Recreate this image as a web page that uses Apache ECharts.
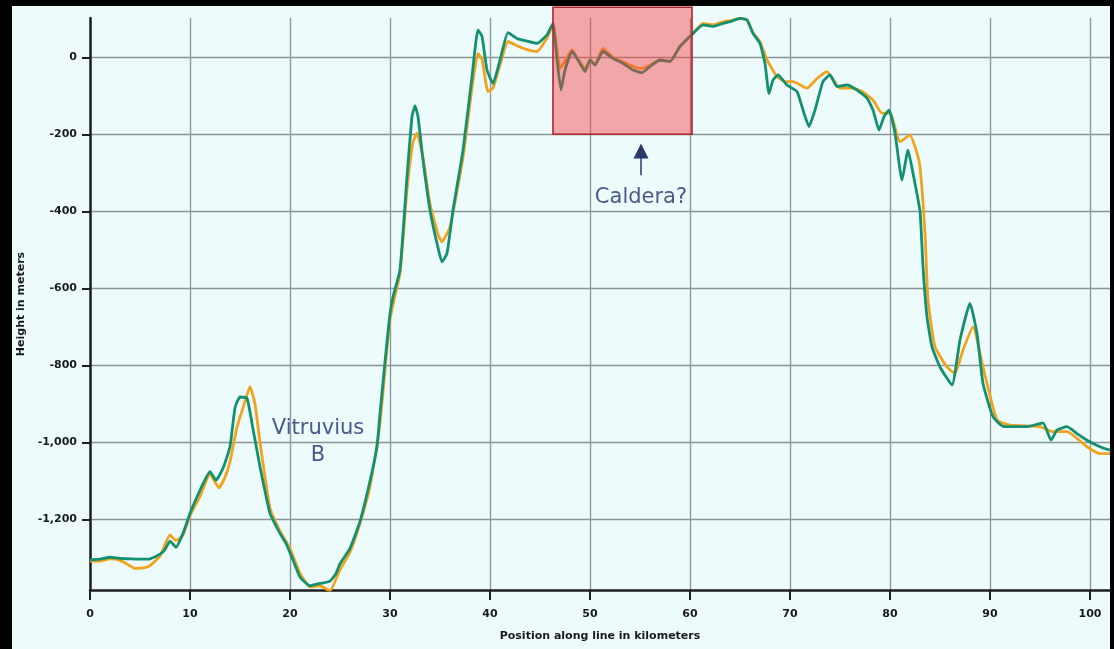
<!DOCTYPE html>
<html>
<head>
<meta charset="utf-8">
<title>Height profile</title>
<script src="https://cdn.jsdelivr.net/npm/echarts@6/dist/echarts.min.js"></script>
<style>
  html, body { margin: 0; padding: 0; background: #000; width: 1114px; height: 649px; overflow: hidden; }
  #panel { position: absolute; left: 12px; top: 6px; width: 1098px; height: 643px; background: #edfbfd; }
  #chart { position: absolute; left: 0; top: 0; width: 1114px; height: 649px; }
</style>
</head>
<body>
<div id="panel"></div>
<div id="chart"></div>
<script>
// Height profile along the survey line (km, m)
const greenKm = [0, 1, 2, 3, 4, 5, 6, 7, 7.5, 8, 8.6, 9.3, 10, 11, 12, 12.6, 13.3, 14, 14.5, 15, 15.7, 16.3, 17, 18, 19, 19.6, 20.3, 21, 22, 23, 24, 24.6, 25, 26, 27, 28, 28.7, 29, 29.5, 30, 30.3, 31, 31.7, 32.2, 32.5, 32.8, 33.3, 34, 34.7, 35.2, 35.7, 36.3, 37.3, 38.2, 38.8, 39.2, 39.7, 40.3, 41, 41.8, 42.7, 43.7, 44.7, 45.7, 46.3, 46.7, 47.1, 47.5, 48.2, 48.8, 49.5, 50, 50.5, 51.3, 52.3, 53.3, 54.3, 55.2, 56, 57, 58, 59, 60.3, 61.3, 62.3, 63.3, 64.2, 65, 65.7, 66.3, 67, 67.5, 67.9, 68.3, 68.8, 69.7, 70.7, 71.3, 71.9, 72.5, 73.3, 74, 74.7, 75.7, 76.7, 77.7, 78.3, 78.9, 79.4, 79.9, 80.5, 81.2, 81.8, 82.3, 83, 83.3, 83.7, 84.2, 85, 86.2, 87, 88, 88.7, 89.3, 90.3, 91.3, 93.7, 95.3, 96.1, 96.7, 97.7, 98.7, 99.7, 101, 102];
const greenHeight = [-1305, -1303, -1298, -1301, -1302, -1303, -1302, -1290, -1278, -1256, -1272, -1236, -1184, -1124, -1076, -1098, -1067, -1011, -910, -882, -885, -965, -1063, -1184, -1236, -1262, -1305, -1349, -1372, -1366, -1360, -1340, -1315, -1275, -1205, -1100, -1011, -925, -790, -665, -622, -552, -310, -154, -126, -154, -267, -397, -483, -531, -509, -397, -241, -50, 71, 54, -33, -68, -7, 64, 49, 42, 36, 58, 88, -7, -85, -33, 15, -7, -37, -7, -20, 15, -3, -16, -33, -40, -24, -7, -11, 28, 62, 84, 80, 88, 94, 101, 97, 62, 36, -16, -94, -59, -46, -72, -89, -137, -180, -137, -63, -46, -76, -72, -85, -106, -137, -189, -154, -137, -197, -319, -241, -301, -400, -544, -674, -752, -804, -851, -734, -639, -717, -847, -933, -958, -959, -949, -994, -968, -959, -977, -994, -1011, -1020];

const orangeKm = [0, 1, 2, 3, 4, 4.5, 5.5, 6, 7, 8, 8.6, 9.3, 10, 11, 12, 12.9, 13.5, 14, 14.7, 15.3, 16, 16.5, 17, 18, 19, 20, 21, 22, 23, 24, 25, 26, 27, 28, 29, 30, 31, 31.7, 32.3, 32.7, 33.3, 34, 34.8, 35.2, 36, 37.3, 38.2, 38.8, 39.2, 39.8, 40.3, 41, 41.8, 42.7, 43.7, 44.7, 45.7, 46.3, 47, 47.5, 48.2, 48.8, 49.5, 50, 50.5, 51.3, 52.3, 53.3, 54.3, 55.2, 56, 57, 58, 59, 60.3, 61.3, 62.3, 63.3, 64.2, 65, 65.7, 66.3, 67, 67.7, 68.7, 69.5, 70.3, 71.7, 72.7, 73.7, 75, 76.3, 77.3, 78.3, 79.2, 80, 81, 82, 82.7, 83, 83.5, 83.8, 84.5, 85.7, 86.5, 87.3, 88.3, 89.3, 90.7, 92, 95, 96.3, 97.7, 99.7, 101, 102];
const orangeHeight = [-1308, -1308, -1302, -1306, -1320, -1327, -1325, -1320, -1295, -1240, -1255, -1240, -1190, -1140, -1082, -1118, -1090, -1050, -960, -910, -855, -900, -1000, -1170, -1230, -1275, -1340, -1375, -1372, -1385, -1330, -1285, -1210, -1115, -950, -680, -560, -345, -220, -197, -260, -380, -460, -479, -440, -260, -80, 10, -5, -89, -80, -20, 41, 30, 20, 15, 50, 84, -29, -10, 19, -5, -29, -10, -18, 23, 0, -12, -24, -29, -20, -7, -10, 28, 62, 88, 84, 92, 96, 101, 97, 64, 40, -7, -50, -63, -63, -80, -55, -37, -80, -80, -90, -111, -145, -145, -219, -202, -249, -284, -457, -630, -752, -804, -821, -760, -700, -804, -942, -955, -959, -972, -972, -1011, -1029, -1029];

// Axis ranges and tick labels
const xRange = [0, 102];
const yRange = [-1383, 102];
const xTickValues = [0, 10, 20, 30, 40, 50, 60, 70, 80, 90, 100];
const yTickValues = [-1200, -1000, -800, -600, -400, -200, 0];

// Annotations: highlighted box, arrow and labels
const calderaBox = [[46.3, 130], [60.2, -200]];
const arrowFrom = [55.1, -306];
const arrowTo = [55.1, -243];
const calderaLabel = [55.1, -365];
const vitruviusLabel = [22.8, -1000];

const pairs = (xs, ys) => xs.map((x, i) => [x, ys[i]]);

const axisColor = '#1e1e1e';
const gridColor = '#8a9495';
const labelFont = { fontFamily: 'DejaVu Sans, sans-serif', fontSize: 11, fontWeight: 'bold', color: '#1a1a1a' };
const noteColor = '#22306a';

const chart = echarts.init(document.getElementById('chart'), null, { renderer: 'canvas' });

chart.setOption({
  backgroundColor: 'transparent',
  animation: false,
  grid: [
    { left: 90, right: 4, top: 18, bottom: 59 },
    // overlay grid for the annotation box, which reaches above the plot
    { left: 90, right: 4, top: 7.2, bottom: 59 }
  ],
  xAxis: [
    {
      type: 'value', gridIndex: 0, min: xRange[0], max: xRange[1], interval: 10,
      name: 'Position along line in kilometers', nameLocation: 'middle', nameGap: 41,
      nameTextStyle: labelFont,
      axisLine: { show: true, onZero: false, lineStyle: { color: axisColor, width: 2.5 } },
      axisTick: { show: true, length: 10, customValues: xTickValues, lineStyle: { color: axisColor, width: 2 } },
      axisLabel: Object.assign({}, labelFont, { margin: 19, customValues: xTickValues }),
      splitLine: { show: true, lineStyle: { color: gridColor, width: 1.3 } }
    },
    { type: 'value', gridIndex: 1, min: xRange[0], max: xRange[1], show: false }
  ],
  yAxis: [
    {
      type: 'value', gridIndex: 0, min: yRange[0], max: yRange[1],
      splitNumber: 7, minInterval: 200, maxInterval: 200,
      name: 'Height in meters', nameLocation: 'middle', nameGap: 62, nameRotate: 90,
      nameTextStyle: labelFont,
      axisLine: { show: true, onZero: false, lineStyle: { color: axisColor, width: 2.5 } },
      axisTick: { show: true, length: 8, customValues: yTickValues, lineStyle: { color: axisColor, width: 2 } },
      axisLabel: Object.assign({}, labelFont, {
        margin: 13, customValues: yTickValues,
        formatter: v => v.toLocaleString('en-US')
      }),
      splitLine: { show: true, lineStyle: { color: gridColor, width: 1.3 } }
    },
    { type: 'value', gridIndex: 1, min: yRange[0], max: calderaBox[0][1], show: false }
  ],
  series: [
    {
      name: 'Profile 2', type: 'line', xAxisIndex: 0, yAxisIndex: 0,
      data: pairs(orangeKm, orangeHeight), showSymbol: false, smooth: 0.15,
      lineStyle: { color: '#f2a31c', width: 2.8 }, z: 2
    },
    {
      name: 'Profile 1', type: 'line', xAxisIndex: 0, yAxisIndex: 0,
      data: pairs(greenKm, greenHeight), showSymbol: false, smooth: 0.15,
      lineStyle: { color: '#129070', width: 2.8 }, z: 3
    },
    {
      name: 'Notes', type: 'scatter', xAxisIndex: 1, yAxisIndex: 1, z: 6,
      symbolSize: 0, silent: true,
      data: [
        { value: calderaLabel, label: { formatter: 'Caldera?' } },
        { value: vitruviusLabel, label: { formatter: 'Vitruvius\nB', lineHeight: 27 } }
      ],
      label: {
        show: true, position: 'inside', color: noteColor,
        fontFamily: 'DejaVu Sans, sans-serif', fontSize: 21, fontWeight: 'normal'
      },
      markArea: {
        silent: true, z: 5,
        itemStyle: { color: 'rgba(250, 62, 62, 0.45)', borderColor: '#b0222a', borderWidth: 1.6 },
        data: [[{ coord: calderaBox[0] }, { coord: calderaBox[1] }]]
      },
      markLine: {
        silent: true, z: 6, symbol: ['none', 'triangle'], symbolSize: 15,
        label: { show: false },
        lineStyle: { color: '#2b386a', width: 1.5, type: 'solid' },
        itemStyle: { color: '#1c2858' },
        data: [[{ coord: arrowFrom }, { coord: arrowTo }]]
      }
    }
  ]
});
</script>
</body>
</html>
